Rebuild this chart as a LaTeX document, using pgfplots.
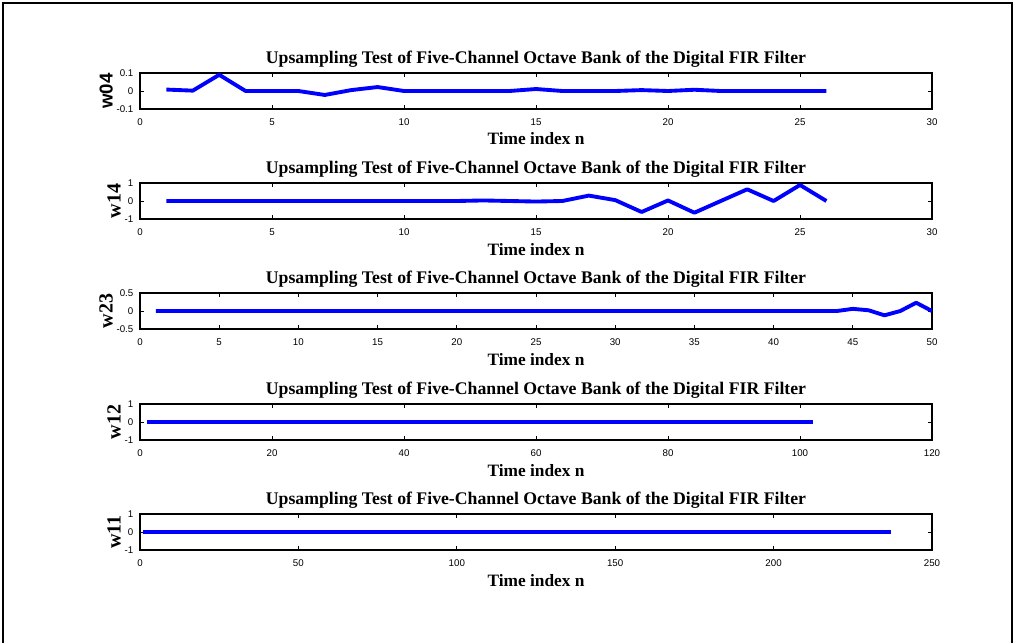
\documentclass[border=0pt]{standalone}
\usepackage{pgfplots}
\pgfplotsset{compat=1.18}
\usepackage{pgfplotstable}
\usepackage{fontspec}
\setmainfont{Liberation Serif}
\setsansfont{Liberation Sans}

\pgfplotsset{
 mystyle/.style={
  scale only axis, width=594pt, height=27pt,
  axis line style={line width=0.9pt},
  tick align=inside,
  major tick length=3pt,
  tick style={black, line width=0.6pt},
  ticklabel style={font=\sffamily\fontsize{7.3}{8}\selectfont},
  /pgf/number format/assume math mode=true,
  xticklabel style={yshift=-3.5pt},
  yticklabel style={xshift=-1.5pt},
  title style={font=\bfseries\fontsize{13.3}{15}\selectfont, at={(0.5,1)}, anchor=base, yshift=1.5pt},
  title={Upsampling Test of Five-Channel Octave Bank of the Digital FIR Filter},
  xlabel={Time index n},
  xlabel style={font=\bfseries\fontsize{13}{15}\selectfont, at={(axis description cs:0.5,0)}, anchor=base, yshift=-27pt},
  ylabel style={font=\bfseries\fontsize{15}{16}\selectfont},
  ylabel shift=-4pt,
  anchor=north west,
  xmin=0,
 },
 myline/.style={color={rgb,255:red,0;green,0;blue,255}, line width=2.9pt, no markers, line join=round},
}

\pgfplotstableread{
x y
1 0.008
2 0.002
3 0.09
4 0
5 0
6 0
7 -0.022
8 0.005
9 0.022
10 0
11 0
12 0
13 0
14 0
15 0.011
16 0
17 0
18 0
19 0.005
20 0
21 0.007
22 0
23 0
24 0
25 0
26 0
}\wzerofour

\pgfplotstableread{
x y
1 0
2 0
3 0
4 0
5 0
6 0
7 0
8 0
9 0
10 0
11 0
12 0
13 0.03
14 0
15 -0.03
16 0
17 0.3
18 0.05
19 -0.61
20 0.03
21 -0.65
22 0
23 0.65
24 0
25 0.89
26 0
}\wonefour

\pgfplotstableread{
x y
1 0
44 0
45 0.06
46 0.02
47 -0.12
48 0
49 0.23
50 0
}\wtwothree

\pgfplotstableread{
x y
1 0
102 0
}\wonetwo

\pgfplotstableread{
x y
1 0
237 0
}\woneone

\begin{document}
\begin{tikzpicture}
\path (0,0) rectangle (762.75pt,-482.25pt);
\draw[line width=1.25pt] (2.25pt,-482.25pt) -- (2.25pt,-2.25pt) -- (759pt,-2.25pt) -- (759pt,-482.25pt);

\begin{axis}[mystyle, at={(105pt,-54.75pt)},
  xmax=30, xtick={0,5,...,30},
  ymin=-0.1, ymax=0.1, ytick={-0.1,0,0.1}, yticklabels={-0.1,0,0.1},
  ylabel={\sffamily\fontsize{14}{15}\selectfont w04}]
\addplot[myline] table[x=x,y=y] {\wzerofour};
\end{axis}

\begin{axis}[mystyle, at={(105pt,-137.25pt)},
  xmax=30, xtick={0,5,...,30},
  ymin=-1, ymax=1, ytick={-1,0,1}, yticklabels={-1,0,1},
  ylabel={w14}]
\addplot[myline] table[x=x,y=y] {\wonefour};
\end{axis}

\begin{axis}[mystyle, at={(105pt,-219.75pt)},
  xmax=50, xtick={0,5,...,50},
  ymin=-0.5, ymax=0.5, ytick={-0.5,0,0.5}, yticklabels={-0.5,0,0.5},
  ylabel={w23}]
\addplot[myline] table[x=x,y=y] {\wtwothree};
\end{axis}

\begin{axis}[mystyle, at={(105pt,-303pt)},
  xmax=120, xtick={0,20,...,120},
  ymin=-1, ymax=1, ytick={-1,0,1}, yticklabels={-1,0,1},
  ylabel={w12}]
\addplot[myline] table[x=x,y=y] {\wonetwo};
\end{axis}

\begin{axis}[mystyle, at={(105pt,-385.5pt)},
  xmax=250, xtick={0,50,...,250},
  ymin=-1, ymax=1, ytick={-1,0,1}, yticklabels={-1,0,1},
  ylabel={w11}]
\addplot[myline] table[x=x,y=y] {\woneone};
\end{axis}
\end{tikzpicture}
\end{document}
